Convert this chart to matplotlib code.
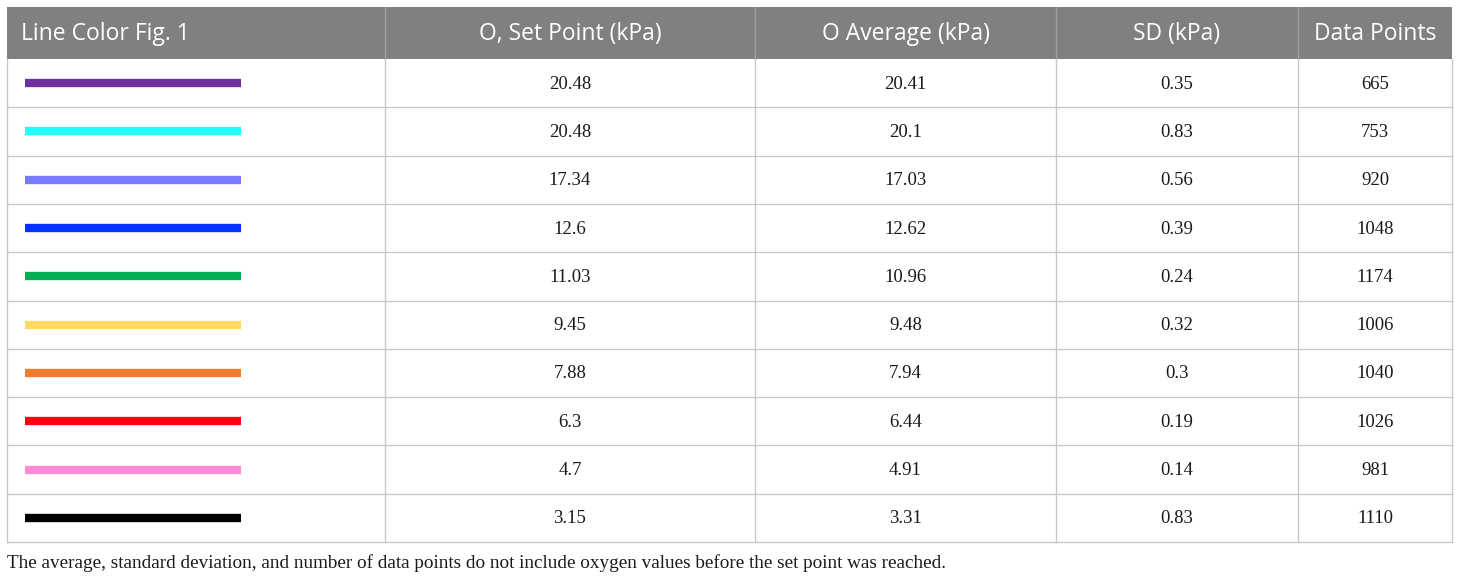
import matplotlib.pyplot as plt
from matplotlib.patches import Rectangle

headers = ['Line Color Fig. 1', 'O, Set Point (kPa)', 'O Average (kPa)', 'SD (kPa)', 'Data Points']
line_colors = ['#7030A0', '#21FFFF', '#7B7BFF', '#0432FF', '#00B050',
               '#FFD966', '#ED7D31', '#FF0013', '#FF8AD8', '#000000']
set_point = ['20.48', '20.48', '17.34', '12.6', '11.03', '9.45', '7.88', '6.3', '4.7', '3.15']
average = ['20.41', '20.1', '17.03', '12.62', '10.96', '9.48', '7.94', '6.44', '4.91', '3.31']
sd = ['0.35', '0.83', '0.56', '0.39', '0.24', '0.32', '0.3', '0.19', '0.14', '0.83']
n_points = ['665', '753', '920', '1048', '1174', '1006', '1040', '1026', '981', '1110']
caption = ('The average, standard deviation, and number of data points do not include '
           'oxygen values before the set point was reached.')

W, H = 1460, 579
fig = plt.figure(figsize=(W / 100, H / 100), dpi=100)
ax = fig.add_axes([0, 0, 1, 1])
ax.set_xlim(0, W)
ax.set_ylim(H, 0)
ax.axis('off')

# table geometry (pixels)
col_edges = [7, 385, 755, 1056, 1298, 1452]
head_top, head_bot = 7, 59
row_h = 48.3
grid = '#C8C8C8'

ax.add_patch(Rectangle((col_edges[0], head_top), col_edges[-1] - col_edges[0],
                       head_bot - head_top, color='#808080', lw=0))
for i, h in enumerate(headers):
    if i == 0:
        x, ha = col_edges[0] + 14, 'left'
    else:
        x, ha = (col_edges[i] + col_edges[i + 1]) / 2, 'center'
    ax.text(x, (head_top + head_bot) / 2 + 1, h, color='white', fontsize=16.5,
            family='Open Sans', ha=ha, va='center')
# faint separators in header
for x in col_edges[1:-1]:
    ax.plot([x, x], [head_top, head_bot], color='#A0A0A0', lw=1)

n = len(set_point)
bottom = head_bot + n * row_h
for r in range(n):
    y0 = head_bot + r * row_h
    yc = y0 + row_h / 2
    ax.plot([25, 241], [yc, yc], color=line_colors[r], lw=6, solid_capstyle='butt')
    for c, vals in enumerate([set_point, average, sd, n_points]):
        xc = (col_edges[c + 1] + col_edges[c + 2]) / 2
        ax.text(xc, yc + 1, vals[r], fontsize=13.5, family='Liberation Serif',
                ha='center', va='center', color='#1A1A1A')
    ax.plot([col_edges[0], col_edges[-1]], [y0 + row_h, y0 + row_h], color=grid, lw=1)

for x in col_edges:
    ax.plot([x, x], [head_bot, bottom], color=grid, lw=1)

ax.text(col_edges[0], 563, caption, fontsize=13.8, family='Liberation Serif',
        ha='left', va='center', color='#1A1A1A')

fig.savefig('out.png', dpi=100)
